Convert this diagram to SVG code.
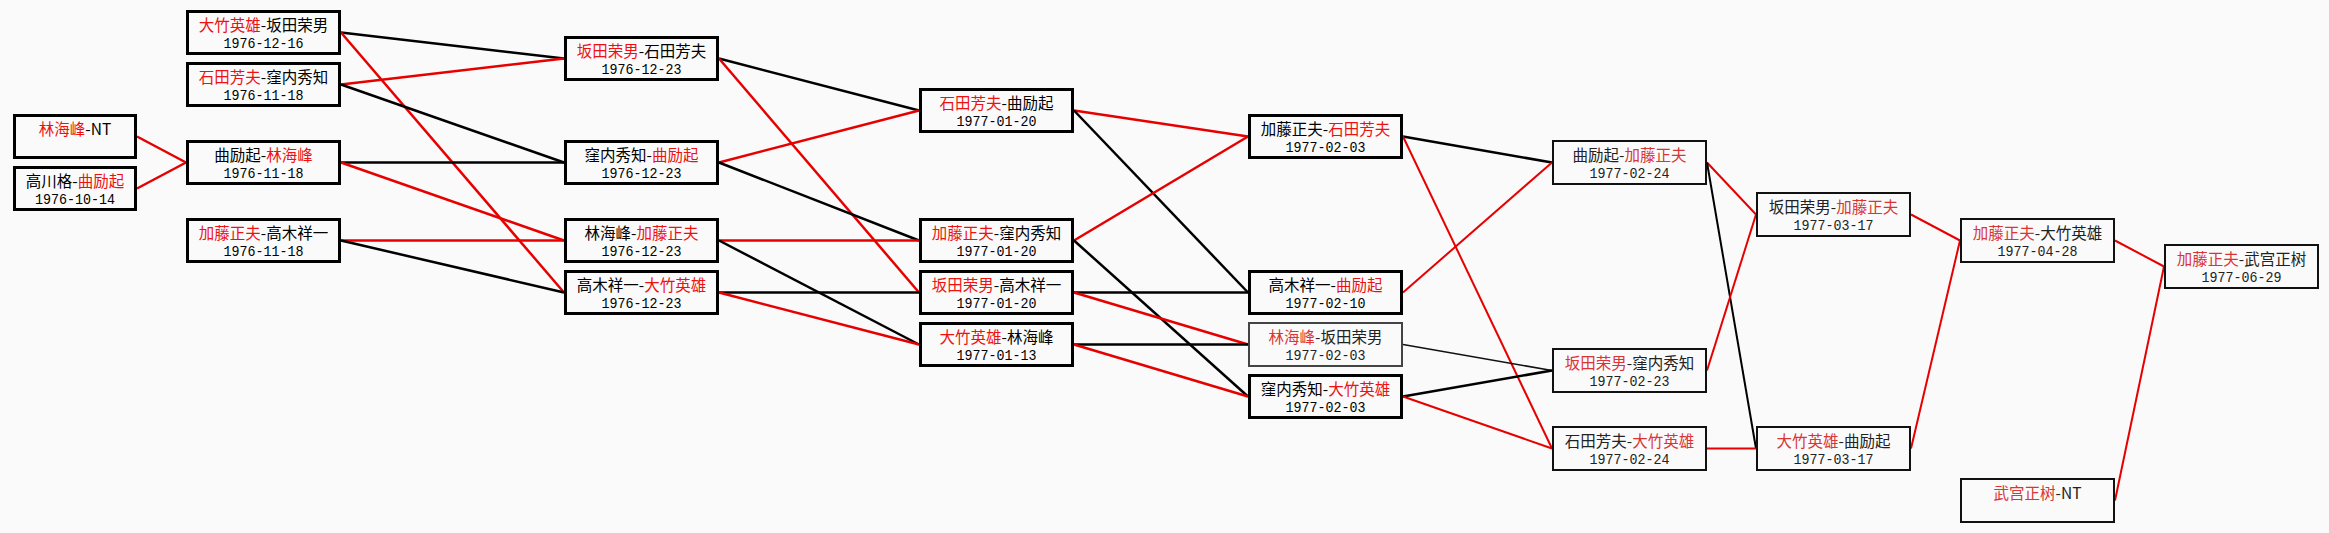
<svg xmlns="http://www.w3.org/2000/svg" width="2329" height="533" viewBox="0 0 2329 533">
<style>
.bg{fill:#fafafa}
.b3{fill:#fafafa;stroke:#000;stroke-width:3}
.b2{fill:#fafafa;stroke:#111;stroke-width:2}
.bt{fill:#fafafa;stroke:#444;stroke-width:2}
.n{font-family:"Noto Sans CJK SC","Noto Sans CJK JP",sans-serif;font-size:15.5px;fill:#000;text-anchor:middle}
.d{font-family:"Liberation Mono",monospace;font-size:15px;fill:#000;text-anchor:middle}
.g{fill:#222}
.r{fill:#ee1111}
.r2{fill:#d93535}
.cr{stroke:#e60000;stroke-width:2.5;fill:none}
.ck{stroke:#000;stroke-width:2.5;fill:none}
.cr2{stroke:#e60000;stroke-width:2;fill:none}
.ck2{stroke:#000;stroke-width:2;fill:none}
.ckt{stroke:#111;stroke-width:1.6;fill:none}
</style>
<rect class="bg" x="0" y="0" width="2329" height="533"/>
<g id="connectors">
<line class="cr" x1="137" y1="136.5" x2="186" y2="162.5"/>
<line class="cr" x1="137" y1="188.5" x2="186" y2="162.5"/>
<line class="ck" x1="341" y1="32.5" x2="564" y2="58.5"/>
<line class="cr" x1="341" y1="32.5" x2="564" y2="292.5"/>
<line class="cr" x1="341" y1="84.5" x2="564" y2="58.5"/>
<line class="ck" x1="341" y1="84.5" x2="564" y2="162.5"/>
<line class="ck" x1="341" y1="162.5" x2="564" y2="162.5"/>
<line class="cr" x1="341" y1="162.5" x2="564" y2="240.5"/>
<line class="cr" x1="341" y1="240.5" x2="564" y2="240.5"/>
<line class="ck" x1="341" y1="240.5" x2="564" y2="292.5"/>
<line class="ck" x1="719" y1="58.5" x2="919" y2="110.5"/>
<line class="cr" x1="719" y1="58.5" x2="919" y2="292.5"/>
<line class="cr" x1="719" y1="162.5" x2="919" y2="110.5"/>
<line class="ck" x1="719" y1="162.5" x2="919" y2="240.5"/>
<line class="cr" x1="719" y1="240.5" x2="919" y2="240.5"/>
<line class="ck" x1="719" y1="240.5" x2="919" y2="344.5"/>
<line class="ck" x1="719" y1="292.5" x2="919" y2="292.5"/>
<line class="cr" x1="719" y1="292.5" x2="919" y2="344.5"/>
<line class="cr" x1="1074" y1="110.5" x2="1248" y2="136.5"/>
<line class="ck" x1="1074" y1="110.5" x2="1248" y2="292.5"/>
<line class="cr" x1="1074" y1="240.5" x2="1248" y2="136.5"/>
<line class="ck" x1="1074" y1="240.5" x2="1248" y2="396.5"/>
<line class="ck" x1="1074" y1="292.5" x2="1248" y2="292.5"/>
<line class="cr" x1="1074" y1="292.5" x2="1248" y2="344.5"/>
<line class="ck" x1="1074" y1="344.5" x2="1248" y2="344.5"/>
<line class="cr" x1="1074" y1="344.5" x2="1248" y2="396.5"/>
<line class="ck" x1="1403" y1="136.5" x2="1552" y2="162.5"/>
<line class="cr2" x1="1403" y1="136.5" x2="1552" y2="448.5"/>
<line class="cr2" x1="1403" y1="292.5" x2="1552" y2="162.5"/>
<line class="ckt" x1="1403" y1="344.5" x2="1552" y2="370.5"/>
<line class="ck" x1="1403" y1="396.5" x2="1552" y2="370.5"/>
<line class="cr2" x1="1403" y1="396.5" x2="1552" y2="448.5"/>
<line class="cr2" x1="1707" y1="162.5" x2="1756" y2="214.5"/>
<line class="ck2" x1="1707" y1="162.5" x2="1756" y2="448.5"/>
<line class="cr2" x1="1707" y1="370.5" x2="1756" y2="214.5"/>
<line class="cr2" x1="1707" y1="448.5" x2="1756" y2="448.5"/>
<line class="cr2" x1="1911" y1="214.5" x2="1960" y2="240.5"/>
<line class="cr2" x1="1911" y1="448.5" x2="1960" y2="240.5"/>
<line class="cr2" x1="2115" y1="240.5" x2="2164" y2="266.5"/>
<line class="cr2" x1="2115" y1="500.5" x2="2164" y2="266.5"/>
</g>
<g id="n0a" transform="translate(13,114)"><rect class="b3" x="1.5" y="1.5" width="121" height="42"/><text class="n" x="62" y="21"><tspan class="r">林海峰</tspan>-NT</text></g>
<g id="n0b" transform="translate(13,166)"><rect class="b3" x="1.5" y="1.5" width="121" height="42"/><text class="n" x="62" y="20.5">高川格-<tspan class="r">曲励起</tspan></text><text class="d" x="62" y="37.5" textLength="80" lengthAdjust="spacingAndGlyphs">1976-10-14</text></g>
<g id="n1a" transform="translate(186,10)"><rect class="b3" x="1.5" y="1.5" width="152" height="42"/><text class="n" x="77.5" y="20.5"><tspan class="r">大竹英雄</tspan>-坂田荣男</text><text class="d" x="77.5" y="37.5" textLength="80" lengthAdjust="spacingAndGlyphs">1976-12-16</text></g>
<g id="n1b" transform="translate(186,62)"><rect class="b3" x="1.5" y="1.5" width="152" height="42"/><text class="n" x="77.5" y="20.5"><tspan class="r">石田芳夫</tspan>-窪内秀知</text><text class="d" x="77.5" y="37.5" textLength="80" lengthAdjust="spacingAndGlyphs">1976-11-18</text></g>
<g id="n1c" transform="translate(186,140)"><rect class="b3" x="1.5" y="1.5" width="152" height="42"/><text class="n" x="77.5" y="20.5">曲励起-<tspan class="r">林海峰</tspan></text><text class="d" x="77.5" y="37.5" textLength="80" lengthAdjust="spacingAndGlyphs">1976-11-18</text></g>
<g id="n1d" transform="translate(186,218)"><rect class="b3" x="1.5" y="1.5" width="152" height="42"/><text class="n" x="77.5" y="20.5"><tspan class="r">加藤正夫</tspan>-高木祥一</text><text class="d" x="77.5" y="37.5" textLength="80" lengthAdjust="spacingAndGlyphs">1976-11-18</text></g>
<g id="n2a" transform="translate(564,36)"><rect class="b3" x="1.5" y="1.5" width="152" height="42"/><text class="n" x="77.5" y="20.5"><tspan class="r">坂田荣男</tspan>-石田芳夫</text><text class="d" x="77.5" y="37.5" textLength="80" lengthAdjust="spacingAndGlyphs">1976-12-23</text></g>
<g id="n2b" transform="translate(564,140)"><rect class="b3" x="1.5" y="1.5" width="152" height="42"/><text class="n" x="77.5" y="20.5">窪内秀知-<tspan class="r">曲励起</tspan></text><text class="d" x="77.5" y="37.5" textLength="80" lengthAdjust="spacingAndGlyphs">1976-12-23</text></g>
<g id="n2c" transform="translate(564,218)"><rect class="b3" x="1.5" y="1.5" width="152" height="42"/><text class="n" x="77.5" y="20.5">林海峰-<tspan class="r">加藤正夫</tspan></text><text class="d" x="77.5" y="37.5" textLength="80" lengthAdjust="spacingAndGlyphs">1976-12-23</text></g>
<g id="n2d" transform="translate(564,270)"><rect class="b3" x="1.5" y="1.5" width="152" height="42"/><text class="n" x="77.5" y="20.5">高木祥一-<tspan class="r">大竹英雄</tspan></text><text class="d" x="77.5" y="37.5" textLength="80" lengthAdjust="spacingAndGlyphs">1976-12-23</text></g>
<g id="n3a" transform="translate(919,88)"><rect class="b3" x="1.5" y="1.5" width="152" height="42"/><text class="n" x="77.5" y="20.5"><tspan class="r">石田芳夫</tspan>-曲励起</text><text class="d" x="77.5" y="37.5" textLength="80" lengthAdjust="spacingAndGlyphs">1977-01-20</text></g>
<g id="n3b" transform="translate(919,218)"><rect class="b3" x="1.5" y="1.5" width="152" height="42"/><text class="n" x="77.5" y="20.5"><tspan class="r">加藤正夫</tspan>-窪内秀知</text><text class="d" x="77.5" y="37.5" textLength="80" lengthAdjust="spacingAndGlyphs">1977-01-20</text></g>
<g id="n3c" transform="translate(919,270)"><rect class="b3" x="1.5" y="1.5" width="152" height="42"/><text class="n" x="77.5" y="20.5"><tspan class="r">坂田荣男</tspan>-高木祥一</text><text class="d" x="77.5" y="37.5" textLength="80" lengthAdjust="spacingAndGlyphs">1977-01-20</text></g>
<g id="n3d" transform="translate(919,322)"><rect class="b3" x="1.5" y="1.5" width="152" height="42"/><text class="n" x="77.5" y="20.5"><tspan class="r">大竹英雄</tspan>-林海峰</text><text class="d" x="77.5" y="37.5" textLength="80" lengthAdjust="spacingAndGlyphs">1977-01-13</text></g>
<g id="n4a" transform="translate(1248,114)"><rect class="b3" x="1.5" y="1.5" width="152" height="42"/><text class="n" x="77.5" y="20.5">加藤正夫-<tspan class="r">石田芳夫</tspan></text><text class="d" x="77.5" y="37.5" textLength="80" lengthAdjust="spacingAndGlyphs">1977-02-03</text></g>
<g id="n4b" transform="translate(1248,270)"><rect class="b3" x="1.5" y="1.5" width="152" height="42"/><text class="n" x="77.5" y="20.5">高木祥一-<tspan class="r">曲励起</tspan></text><text class="d" x="77.5" y="37.5" textLength="80" lengthAdjust="spacingAndGlyphs">1977-02-10</text></g>
<g id="n4c" transform="translate(1248,322)"><rect class="bt" x="1" y="1" width="153" height="43"/><text class="n g" x="77.5" y="20.5"><tspan class="r2">林海峰</tspan>-坂田荣男</text><text class="d g" x="77.5" y="37.5" textLength="80" lengthAdjust="spacingAndGlyphs">1977-02-03</text></g>
<g id="n4d" transform="translate(1248,374)"><rect class="b3" x="1.5" y="1.5" width="152" height="42"/><text class="n" x="77.5" y="20.5">窪内秀知-<tspan class="r">大竹英雄</tspan></text><text class="d" x="77.5" y="37.5" textLength="80" lengthAdjust="spacingAndGlyphs">1977-02-03</text></g>
<g id="n5a" transform="translate(1552,140)"><rect class="b2" x="1" y="1" width="153" height="43"/><text class="n g" x="77.5" y="20.5">曲励起-<tspan class="r2">加藤正夫</tspan></text><text class="d g" x="77.5" y="37.5" textLength="80" lengthAdjust="spacingAndGlyphs">1977-02-24</text></g>
<g id="n5b" transform="translate(1552,348)"><rect class="b2" x="1" y="1" width="153" height="43"/><text class="n g" x="77.5" y="20.5"><tspan class="r2">坂田荣男</tspan>-窪内秀知</text><text class="d g" x="77.5" y="37.5" textLength="80" lengthAdjust="spacingAndGlyphs">1977-02-23</text></g>
<g id="n5c" transform="translate(1552,426)"><rect class="b2" x="1" y="1" width="153" height="43"/><text class="n g" x="77.5" y="20.5">石田芳夫-<tspan class="r2">大竹英雄</tspan></text><text class="d g" x="77.5" y="37.5" textLength="80" lengthAdjust="spacingAndGlyphs">1977-02-24</text></g>
<g id="n6a" transform="translate(1756,192)"><rect class="b2" x="1" y="1" width="153" height="43"/><text class="n g" x="77.5" y="20.5">坂田荣男-<tspan class="r2">加藤正夫</tspan></text><text class="d g" x="77.5" y="37.5" textLength="80" lengthAdjust="spacingAndGlyphs">1977-03-17</text></g>
<g id="n6b" transform="translate(1756,426)"><rect class="b2" x="1" y="1" width="153" height="43"/><text class="n g" x="77.5" y="20.5"><tspan class="r2">大竹英雄</tspan>-曲励起</text><text class="d g" x="77.5" y="37.5" textLength="80" lengthAdjust="spacingAndGlyphs">1977-03-17</text></g>
<g id="n7a" transform="translate(1960,218)"><rect class="b2" x="1" y="1" width="153" height="43"/><text class="n g" x="77.5" y="20.5"><tspan class="r2">加藤正夫</tspan>-大竹英雄</text><text class="d g" x="77.5" y="37.5" textLength="80" lengthAdjust="spacingAndGlyphs">1977-04-28</text></g>
<g id="n7b" transform="translate(1960,478)"><rect class="b2" x="1" y="1" width="153" height="43"/><text class="n g" x="77.5" y="21"><tspan class="r2">武宫正树</tspan>-NT</text></g>
<g id="n8" transform="translate(2164,244)"><rect class="b2" x="1" y="1" width="153" height="43"/><text class="n g" x="77.5" y="20.5"><tspan class="r2">加藤正夫</tspan>-武宫正树</text><text class="d g" x="77.5" y="37.5" textLength="80" lengthAdjust="spacingAndGlyphs">1977-06-29</text></g>
</svg>
